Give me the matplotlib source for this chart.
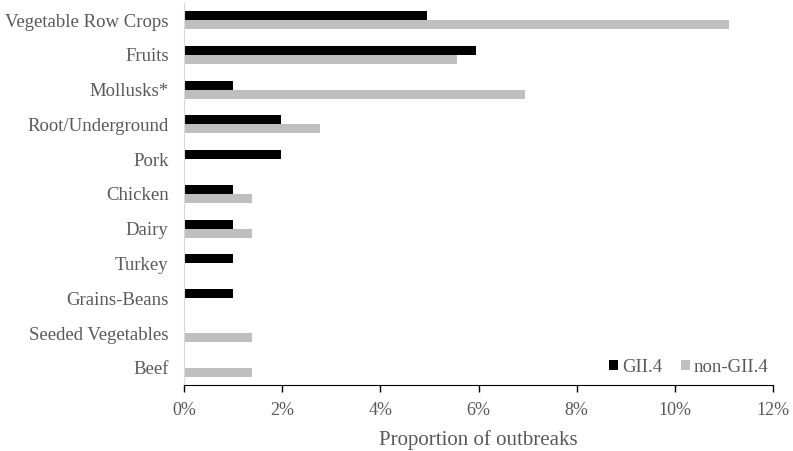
import numpy as np
import matplotlib.pyplot as plt

plt.rcParams['font.family'] = ['Liberation Serif', 'DejaVu Serif']

categories = ['Vegetable Row Crops', 'Fruits', 'Mollusks*', 'Root/Underground', 'Pork',
              'Chicken', 'Dairy', 'Turkey', 'Grains-Beans', 'Seeded Vegetables', 'Beef']
gii4 = [4.95, 5.94, 0.99, 1.98, 1.98, 0.99, 0.99, 0.99, 0.99, 0, 0]
non_gii4 = [11.11, 5.56, 6.94, 2.78, 0, 1.39, 1.39, 0, 0, 1.39, 1.39]
xticks = [0, 2, 4, 6, 8, 10, 12]

txt = '#595959'
fig = plt.figure(figsize=(7.93, 4.51), dpi=100)
ax = fig.add_axes([0.232, 0.146, 0.743, 0.848])

y = np.arange(len(categories))
h = 0.26
ax.barh(y - h/2, gii4, height=h, color='black', label='GII.4')
ax.barh(y + h/2, non_gii4, height=h, color='#BFBFBF', label='non-GII.4')

ax.set_ylim(len(categories) - 0.5, -0.5)
ax.set_xlim(0, 12)
ax.set_yticks(y)
ax.set_yticklabels(categories, fontsize=13.5, color=txt)
ax.set_xticks(xticks)
ax.set_xticklabels([f'{t}%' for t in xticks], fontsize=13, color=txt)
ax.tick_params(axis='y', length=0, pad=11)
ax.tick_params(axis='x', length=5, width=1, color='black', pad=7, direction='out')

for s in ['top', 'right']:
    ax.spines[s].set_visible(False)
ax.spines['left'].set_color('#D9D9D9')
ax.spines['bottom'].set_color('black')

ax.set_xlabel('Proportion of outbreaks', fontsize=15, color=txt, labelpad=8)

leg = ax.legend(loc='lower right', ncol=2, frameon=False, fontsize=13.5,
                handlelength=0.5, handleheight=0.5, handletextpad=0.2,
                columnspacing=1.0, bbox_to_anchor=(1.005, 0.005), borderaxespad=0.0)
for t in leg.get_texts():
    t.set_color(txt)

fig.savefig('out.png', dpi=100)
